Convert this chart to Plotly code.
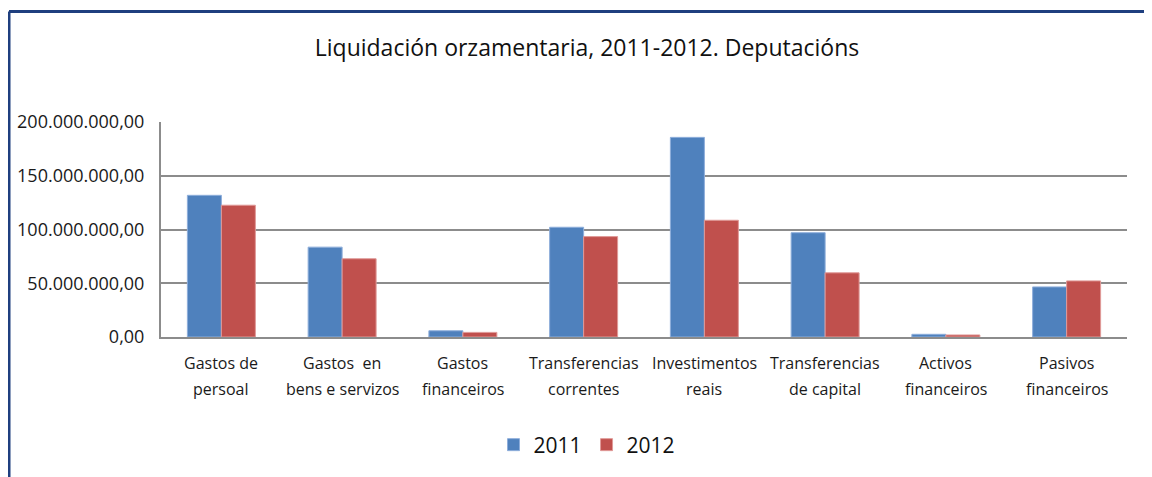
import plotly.graph_objects as go

line1 = ["Gastos de", "Gastos  en", "Gastos", "Transferencias", "Investimentos",
         "Transferencias", "Activos", "Pasivos"]
line2 = ["persoal", "bens e servizos", "financeiros", "correntes", "reais",
         "de capital", "financeiros", "financeiros"]
categories = [a + "<br>" + b for a, b in zip(line1, line2)]
values_2011 = [131.8e6, 83.6e6, 5.8e6, 102.1e6, 185.7e6, 97.0e6, 2.5e6, 46.6e6]
values_2012 = [122.6e6, 72.8e6, 4.3e6, 93.4e6, 108.6e6, 59.7e6, 1.9e6, 52.2e6]
tick_vals = [0, 50e6, 100e6, 150e6, 200e6]
tick_text = ["0,00", "50.000.000,00", "100.000.000,00", "150.000.000,00", "200.000.000,00"]

FONT = "Open Sans"
OFF = 8  # page body margin
PW, PH = 1152, 477
W, H = PW - OFF, PH - OFF
PL, PR, PT, PB = 161, 1127, 122, 337  # plot area in page pixels
L, R, T, B = PL - OFF, PW - PR, PT - OFF, PH - PB
pw, ph = PR - PL, PB - PT

def px_x(x):
    return (x - PL) / pw

def px_y(y):
    return (PB - y) / ph

fig = go.Figure()
fig.add_trace(go.Bar(name="2011", x=categories, y=values_2011,
                     marker=dict(color="#4F81BD", line=dict(color="#8EAEDB", width=1))))
fig.add_trace(go.Bar(name="2012", x=categories, y=values_2012,
                     marker=dict(color="#C0504D", line=dict(color="#E09A98", width=1))))

for c, a, b in zip(categories, line1, line2):
    fig.add_annotation(x=c, xref="x", y=px_y(363), yref="paper", text=a, showarrow=False,
                       xanchor="center", yanchor="middle",
                       font=dict(family=FONT, size=16, color="#1a1a1a"))
    fig.add_annotation(x=c, xref="x", y=px_y(389), yref="paper", text=b, showarrow=False,
                       xanchor="center", yanchor="middle",
                       font=dict(family=FONT, size=16, color="#1a1a1a"))

navy = "#1F3F7F"
fig.add_shape(type="line", xref="paper", yref="paper", x0=px_x(9), x1=px_x(1170),
              y0=px_y(11.5), y1=px_y(11.5), line=dict(color=navy, width=3))
fig.add_shape(type="line", xref="paper", yref="paper", x0=px_x(9), x1=px_x(9),
              y0=px_y(11.5), y1=px_y(490), line=dict(color=navy, width=3))

fig.update_layout(
    width=W, height=H,
    margin=dict(l=L, r=R, t=T, b=B, pad=0, autoexpand=False),
    paper_bgcolor="white", plot_bgcolor="white",
    barmode="group", bargap=0.437, bargroupgap=0,
    font=dict(family=FONT, color="#1a1a1a", size=16),
    title=dict(text="Liquidación orzamentaria, 2011-2012. Deputacións",
               x=(587 - OFF) / W, xanchor="center", xref="container",
               y=1 - (48 - OFF) / H, yanchor="middle", yref="container",
               font=dict(family=FONT, size=23, color="#111111")),
    legend=dict(orientation="h", x=px_x(587), xanchor="center", y=px_y(445), yanchor="middle",
                font=dict(family=FONT, size=21, color="#111111"), traceorder="normal",
                itemwidth=30),
    xaxis=dict(showline=True, linecolor="#8C8C8C", linewidth=2, ticks="",
               showticklabels=False, automargin=False),
    yaxis=dict(range=[0, 200e6], tickvals=tick_vals, ticktext=tick_text,
               showgrid=True, gridcolor="#8C8C8C", gridwidth=2,
               showline=True, linecolor="#8C8C8C", linewidth=2, ticks="",
               ticklabelstandoff=11, zeroline=False, automargin=False,
               tickfont=dict(family=FONT, size=18, color="#1a1a1a")),
)

fig.write_html("out.html")
